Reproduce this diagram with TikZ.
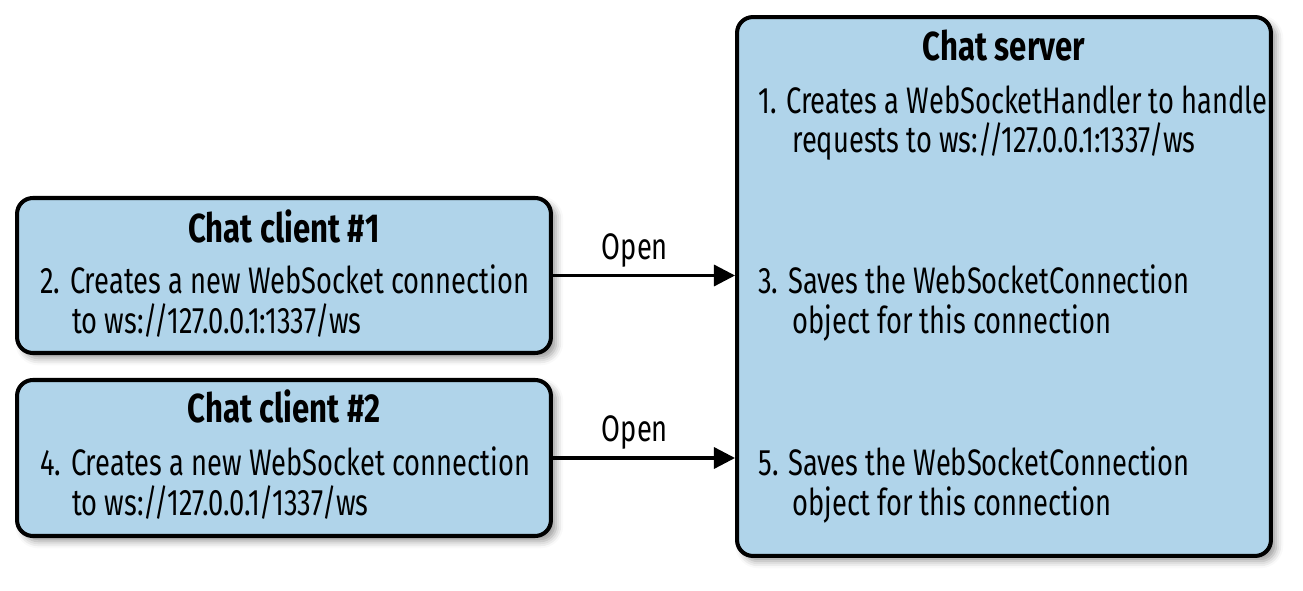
\documentclass[tikz,border=0pt]{standalone}
\usepackage{fontspec}
\setmainfont{Fira Sans}[FakeStretch=0.74]
\newfontfamily\titlefont{Fira Sans}[FakeStretch=0.77]
\usetikzlibrary{arrows.meta,shadows.blur}
\definecolor{boxblue}{RGB}{176,212,234}

\begin{document}
\begin{tikzpicture}[x=0.02cm, y=-0.02cm,
  chatbox/.style={draw, line width=2.3pt, rounded corners=9pt, fill=boxblue,
    blur shadow={shadow xshift=3pt, shadow yshift=-3pt, shadow blur radius=4pt}},
  boxtitle/.style={font=\titlefont\fontsize{23}{26}\selectfont\bfseries, anchor=base, inner sep=0pt},
  boxtext/.style={font=\fontsize{21}{22.7}\selectfont, anchor=base west, inner sep=0pt},
  openlabel/.style={font=\fontsize{21}{24}\selectfont, inner sep=0pt},
  link/.style={-{Triangle[length=12pt, width=12pt]}, line width=1.8pt}]
\useasboundingbox (0,0) rectangle (1303,591);

% boxes
\node[chatbox, minimum width=10.68cm, minimum height=3.1cm] (client1) at (284,275.5) {};
\node[chatbox, minimum width=10.68cm, minimum height=3.12cm] (client2) at (284,458) {};
\node[chatbox, minimum width=10.68cm, minimum height=10.78cm] (server) at (1004,286.5) {};

% client texts
\node[boxtitle] (t1) at (284,243) {Chat client \#1};
\node[boxtext] (a1) at (40,294) {2. Creates a new WebSocket connection};
\node[boxtext] (b1) at (72,334) {to ws://127.0.0.1:1337/ws};

\node[boxtitle] (t2) at (284,423) {Chat client \#2};
\node[boxtext] (a2) at (40,476) {4. Creates a new WebSocket connection};
\node[boxtext] (b2) at (72,516) {to ws://127.0.0.1/1337/ws};

% server texts
\node[boxtitle] (ts) at (1004,61) {Chat server};
\node[boxtext] (s1) at (758,114) {1. Creates a WebSocketHandler to handle};
\node[boxtext] (s1b) at (792,153) {requests to ws://127.0.0.1:1337/ws};
\node[boxtext] (s3) at (758,294) {3. Saves the WebSocketConnection};
\node[boxtext] (s3b) at (792,334) {object for this connection};
\node[boxtext] (s5) at (758,476) {5. Saves the WebSocketConnection};
\node[boxtext] (s5b) at (792,516) {object for this connection};

% connections
\draw[link] (client1.east) -- (client1.east -| server.west) node[openlabel, pos=0.45, above=4pt] (o1) {Open};
\draw[link] (client2.east) -- (client2.east -| server.west) node[openlabel, pos=0.45, above=4pt] (o2) {Open};
\end{tikzpicture}
\end{document}
